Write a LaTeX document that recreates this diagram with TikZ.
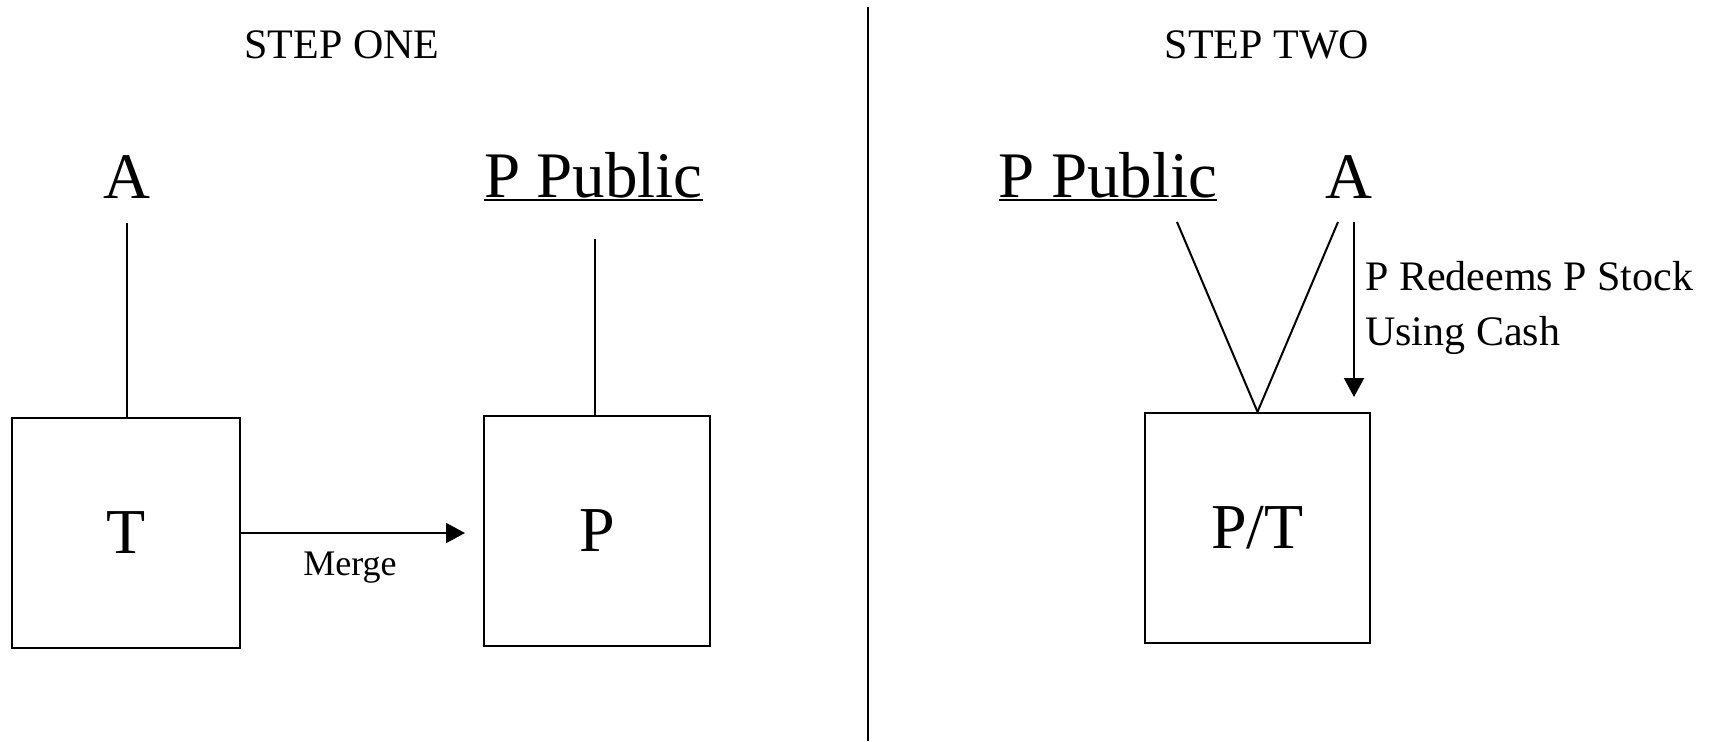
\documentclass[tikz,border=0pt]{standalone}
\usepackage{fontspec}
\setmainfont{Liberation Serif}
\usetikzlibrary{arrows.meta}
\tikzset{
  big/.style={font=\fontsize{65}{78}\selectfont, inner sep=0pt, anchor=base},
  title/.style={font=\fontsize{42}{50}\selectfont, inner sep=0pt, anchor=base},
  small/.style={font=\fontsize{42}{50}\selectfont, inner sep=0pt, anchor=base west},
  lbl/.style={font=\fontsize{36}{44}\selectfont, inner sep=0pt, anchor=base},
  box/.style={draw, line width=2.3pt, inner sep=0pt, font=\fontsize{64}{76}\selectfont},
  conn/.style={line width=2pt},
  arr/.style={line width=2pt, -{Triangle[length=19pt,width=20pt]}},
  ul/.style={line width=2.6pt}
}
\begin{document}
\begin{tikzpicture}[x=1pt,y=-1pt]
\useasboundingbox (0,0) rectangle (1720,741);
\fill[white] (0,0) rectangle (1720,741);

% divider
\coordinate (divtop) at (868,7);
\coordinate (divbot) at (868,741);
\draw[conn] (divtop) -- (divbot);

% titles
\node[title] (s1) at (342,59) {STEP ONE};
\node[title] (s2) at (1267,59) {STEP TWO};

% step one
\node[big] (aL) at (127,198) {A};
\node[big] (ppL) at (593.5,197) {P Public};
\draw[ul] ([yshift=-3pt]ppL.base west) -- ([yshift=-3pt]ppL.base east);

\node[box, minimum width=228pt, minimum height=230pt] (T) at (126,533) {T};
\node[box, minimum width=226pt, minimum height=230pt] (P) at (597,531) {P};

\draw[conn] ([yshift=-25pt]aL.south) -- (aL.south |- T.north);
\draw[conn] ([xshift=1.5pt,yshift=-41pt]ppL.south) -- ([xshift=1.5pt]ppL.south |- P.north);

\coordinate (mtip) at (465,533);
\draw[arr] (T.east) -- (mtip);
\node[lbl] (merge) at (350,575) {Merge};

% step two
\node[big] (ppR) at (1108,197) {P Public};
\draw[ul] ([yshift=-3pt]ppR.base west) -- ([yshift=-3pt]ppR.base east);
\node[big] (aR) at (1349,198) {A};

\node[box, minimum width=225pt, minimum height=230pt] (PT) at (1257.5,528) {P/T};

\coordinate (vl) at (1177,222);
\coordinate (vr) at (1338,222);
\draw[conn] (vl) -- (PT.north);
\draw[conn] (vr) -- (PT.north);

\coordinate (rtop) at (1354,222);
\coordinate (rtip) at (1354,397);
\draw[arr] (rtop) -- (rtip);

\node[small] (red1) at (1365,290) {P Redeems P Stock};
\node[small] (red2) at (1365,345) {Using Cash};
\end{tikzpicture}
\end{document}
